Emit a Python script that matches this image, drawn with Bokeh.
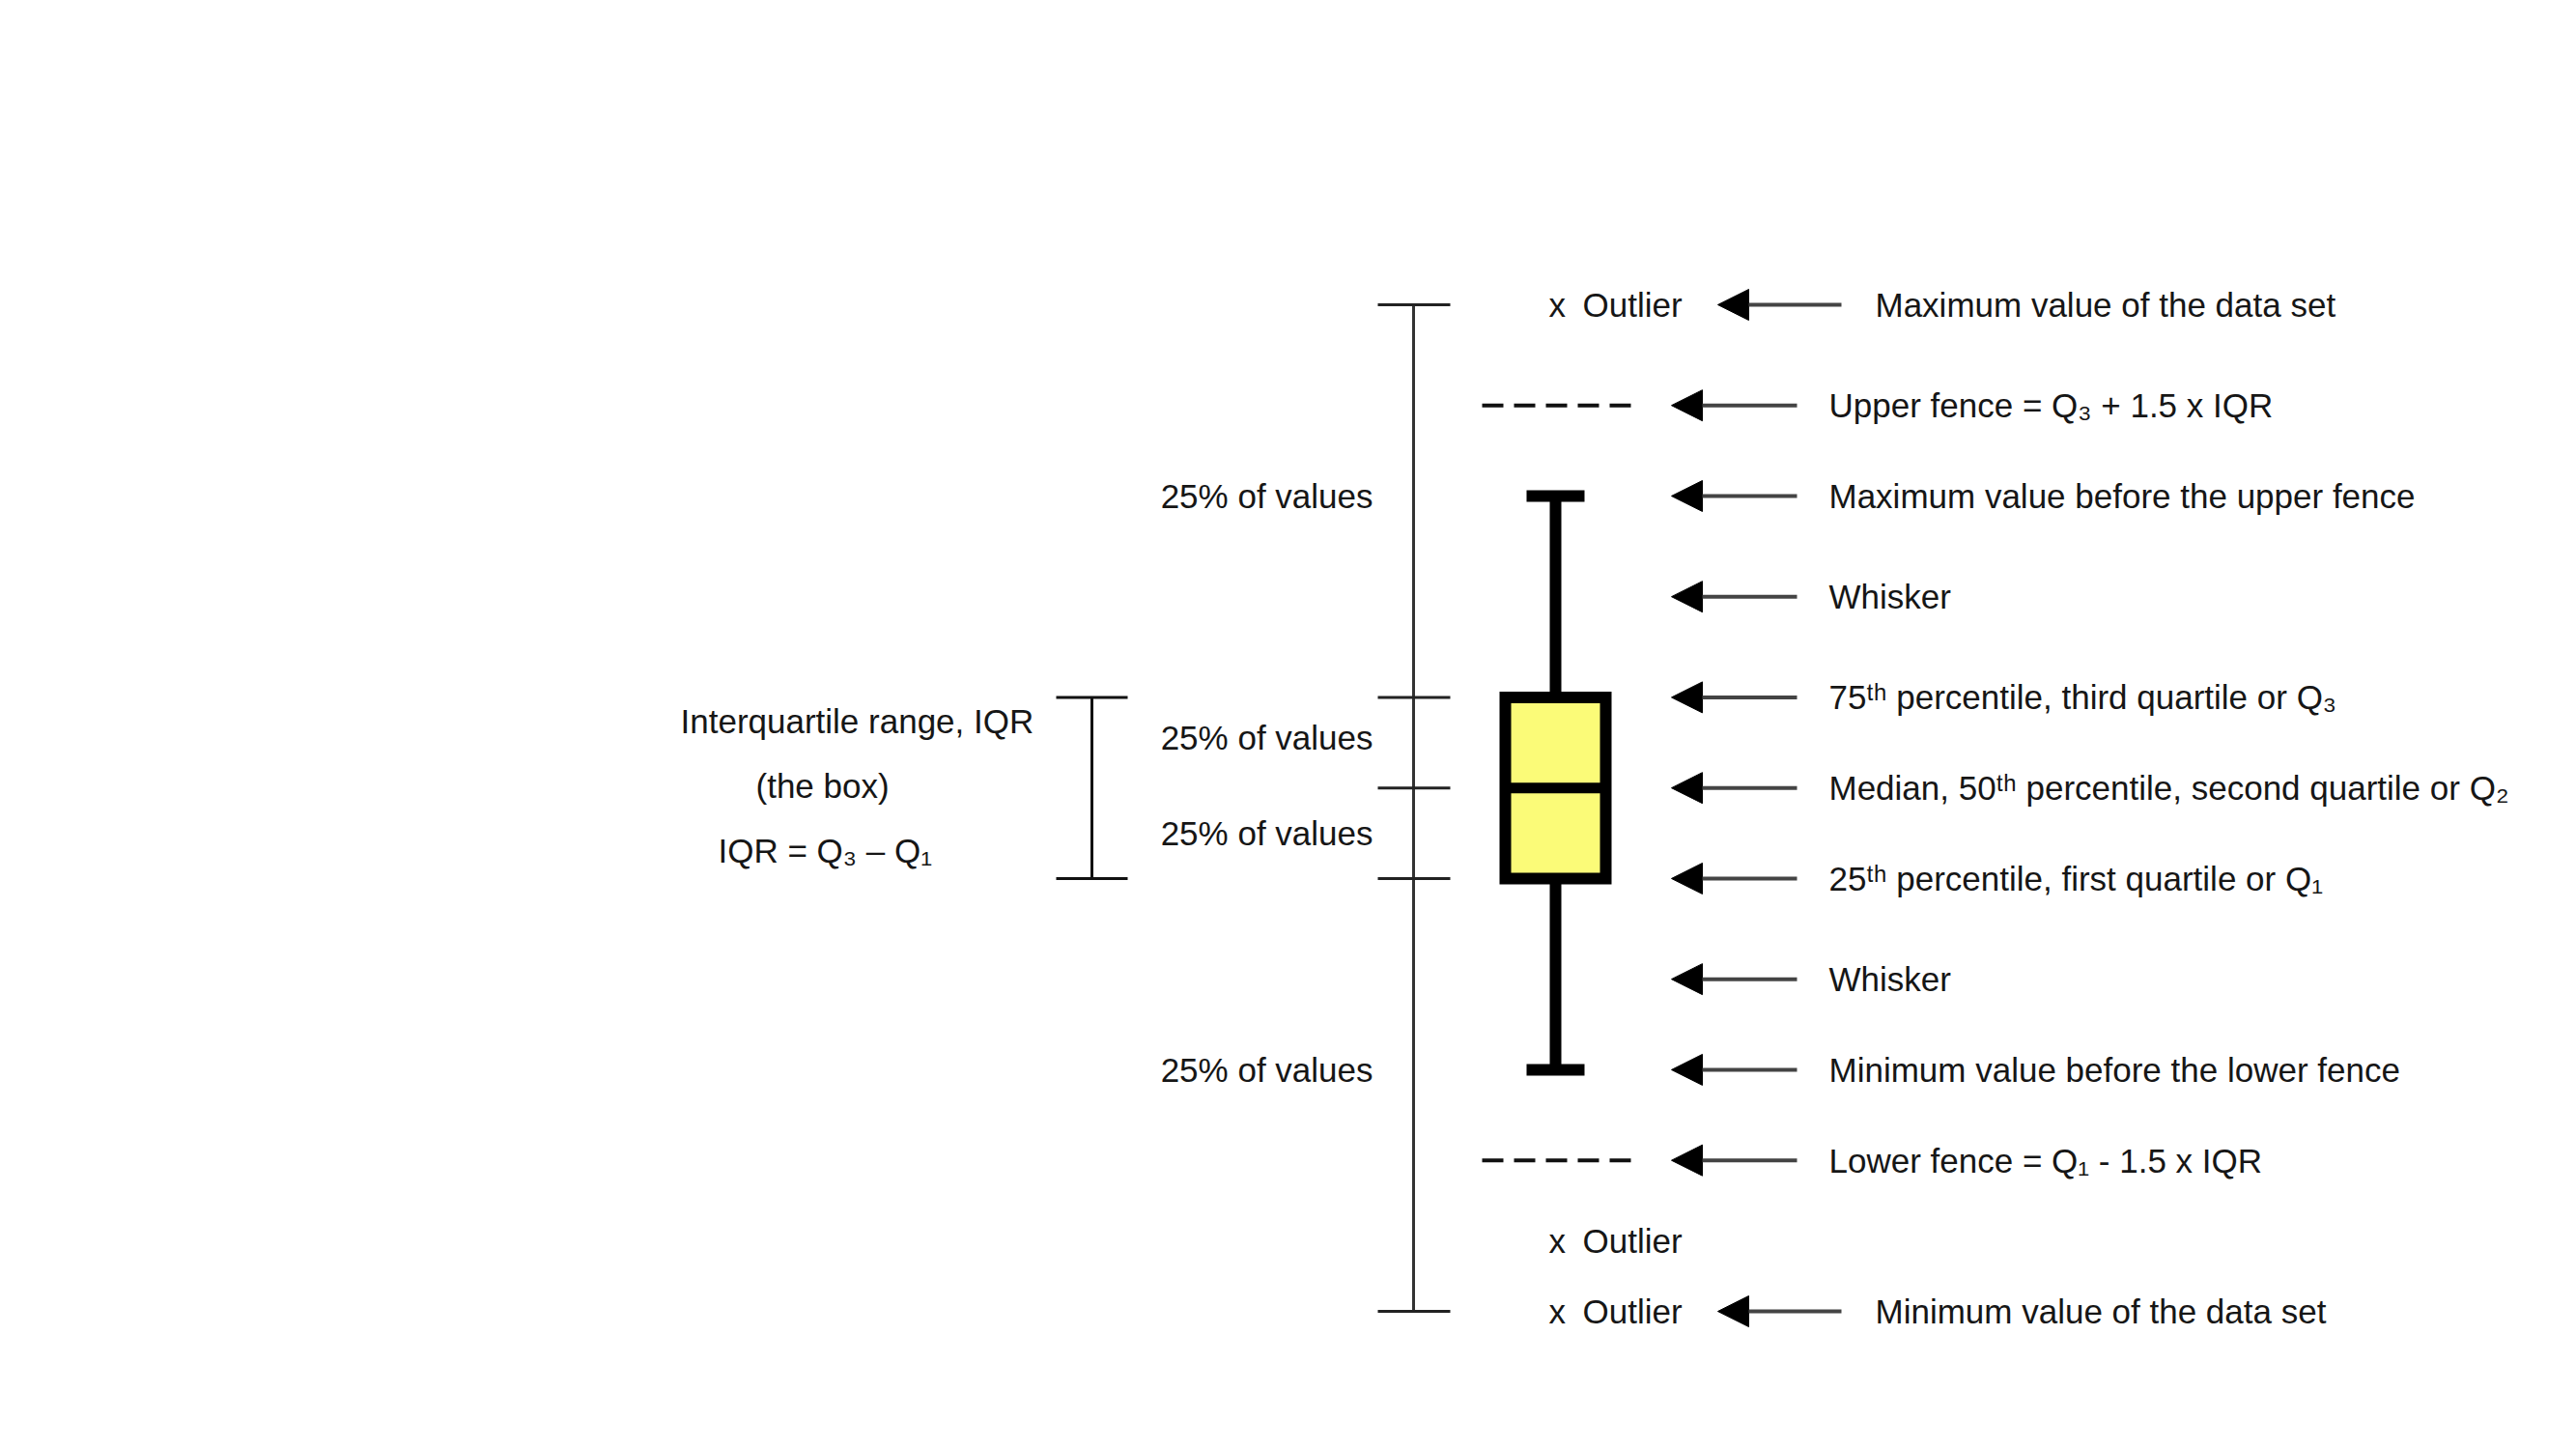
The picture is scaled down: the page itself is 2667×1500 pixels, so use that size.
from bokeh.plotting import figure
from bokeh.models import Range1d, ColumnDataSource, Arrow, NormalHead
from bokeh.core.properties import value
from bokeh.embed import file_html
from bokeh.resources import INLINE

# ---- statistics of the illustrated data set (value units) ----
data_min = 0
outlier_low = 7
lower_fence = 15
lower_whisker = 24
q1 = 43
median = 52
q3 = 61
upper_whisker = 81
upper_fence = 90
data_max = 100

outlier_values = [data_max, outlier_low, data_min]
fence_values = [upper_fence, lower_fence]

# ---- right-hand annotations ----
right_labels = [
    "Maximum value of the data set",
    "Upper fence = Q\u2083 + 1.5 x IQR",
    "Maximum value before the upper fence",
    "Whisker",
    "75\u1d57\u02b0 percentile, third quartile or Q\u2083",
    "Median, 50\u1d57\u02b0 percentile, second quartile or Q\u2082",
    "25\u1d57\u02b0 percentile, first quartile or Q\u2081",
    "Whisker",
    "Minimum value before the lower fence",
    "Lower fence = Q\u2081 - 1.5 x IQR",
    "Minimum value of the data set",
]
right_values = [data_max, upper_fence, upper_whisker, 71, q3, median, q1, 33,
                lower_whisker, lower_fence, data_min]
right_is_extreme = [True] + [False] * 9 + [True]

# ---- left-hand annotations ----
quarter_labels = ["25% of values"] * 4
quarter_values = [81, 57, 47.5, 24]
iqr_labels = ["Interquartile range, IQR", "(the box)", "IQR = Q\u2083 \u2013 Q\u2081"]
iqr_values = [58.6, 52.2, 45.8]

# ---- layout (screen) ----
W, H = 2651, 1484
PX_PER_UNIT = 10.42
ZERO_Y = 1357  # row of value 0
y_bottom = (ZERO_Y - H) / PX_PER_UNIT
y_top = ZERO_Y / PX_PER_UNIT

p = figure(width=W, height=H, output_backend="svg", toolbar_location=None,
           x_range=Range1d(0, W), y_range=Range1d(y_bottom, y_top),
           min_border=0, background_fill_color="white", border_fill_color="white")
p.axis.visible = False
p.xgrid.visible = False
p.ygrid.visible = False
p.outline_line_color = None

FONT = value("Liberation Sans")
TXT = "#161616"

# scale bar on the left of the box
X_SCALE = 1463
p.segment(x0=[X_SCALE], y0=[data_min], x1=[X_SCALE], y1=[data_max],
          line_color="#333333", line_width=3)
tick_vals = [data_max, q3, median, q1, data_min]
p.segment(x0=[1426] * 5, y0=tick_vals, x1=[1501] * 5, y1=tick_vals,
          line_color="#222222", line_width=3)

# IQR bracket
X_BR = 1130
p.segment(x0=[X_BR], y0=[q1], x1=[X_BR], y1=[q3], line_color="#111111", line_width=3)
p.segment(x0=[1093, 1093], y0=[q3, q1], x1=[1167, 1167], y1=[q3, q1],
          line_color="#111111", line_width=3)

# whiskers
X_BOX = 1610
p.segment(x0=[X_BOX, X_BOX], y0=[q3, q1], x1=[X_BOX, X_BOX],
          y1=[upper_whisker, lower_whisker], line_color="black", line_width=12)
p.segment(x0=[1580, 1580], y0=[upper_whisker, lower_whisker], x1=[1640, 1640],
          y1=[upper_whisker, lower_whisker], line_color="black", line_width=12,
          line_cap="butt")

# box
p.quad(left=[1558], right=[1662], bottom=[q1], top=[q3], fill_color="#FBFB78",
       line_color="black", line_width=12, line_join="miter")
p.segment(x0=[1558], y0=[median], x1=[1662], y1=[median], line_color="black", line_width=11)

# fences
p.segment(x0=[1534] * 2, y0=fence_values, x1=[1690] * 2, y1=fence_values,
          line_color="#111111", line_width=4, line_dash="22 11")

# outliers
p.text(x=[1603] * 3, y=outlier_values, text=["x"] * 3, text_font=FONT,
       text_font_size="35px", text_color=TXT, text_baseline="middle", text_align="left")
p.text(x=[1638] * 3, y=outlier_values, text=["Outlier"] * 3, text_font=FONT,
       text_font_size="35px", text_color=TXT, text_baseline="middle", text_align="left")

# arrows
ax0 = [1906 if e else 1860 for e in right_is_extreme]
ax1 = [1778 if e else 1730 for e in right_is_extreme]
arrows = ColumnDataSource(dict(x0=ax0, x1=ax1, y0=right_values, y1=right_values))
p.add_layout(Arrow(source=arrows, x_start="x0", y_start="y0", x_end="x1", y_end="y1",
                   line_color="#444444", line_width=4,
                   end=NormalHead(size=32, fill_color="black", line_color="black",
                                  line_width=1)))

# right labels
tx = [1941 if e else 1893 for e in right_is_extreme]
p.text(x=tx, y=right_values, text=right_labels, text_font=FONT, text_font_size="35px",
       text_color=TXT, text_baseline="middle", text_align="left")

# left labels
p.text(x=[1421] * 4, y=quarter_values, text=quarter_labels, text_font=FONT,
       text_font_size="35px", text_color=TXT, text_baseline="middle", text_align="right")
p.text(x=[704, 782, 743], y=iqr_values, text=iqr_labels, text_font=FONT,
       text_font_size="35px", text_color=TXT, text_baseline="middle", text_align="left")

open("out.html", "w").write(file_html(p, INLINE))
